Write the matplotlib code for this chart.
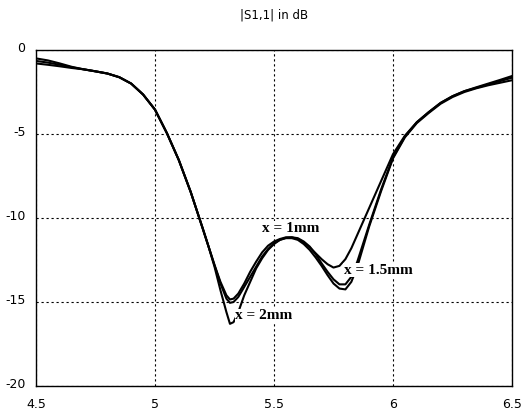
import matplotlib
matplotlib.use("Agg")
import matplotlib.pyplot as plt
from matplotlib.transforms import ScaledTranslation

freq = [4.5, 4.55, 4.6, 4.65, 4.7, 4.75, 4.8, 4.85, 4.9, 4.95, 5.0, 5.05, 5.1, 5.15,
        5.2, 5.225, 5.25, 5.275, 5.3, 5.315, 5.33, 5.35, 5.375, 5.4, 5.425, 5.45,
        5.475, 5.5, 5.525, 5.55, 5.575, 5.6, 5.625, 5.65, 5.675, 5.7, 5.725, 5.75,
        5.775, 5.8, 5.825, 5.85, 5.875, 5.9, 5.95, 6.0, 6.05, 6.1, 6.15, 6.2, 6.25,
        6.3, 6.35, 6.4, 6.45, 6.5]

s11_x1mm = [-0.5, -0.62, -0.8, -1.0, -1.15, -1.27, -1.4, -1.62, -2.0, -2.65, -3.55, -4.95,
            -6.55, -8.45, -10.6, -11.7, -12.8, -13.8, -14.6, -14.85, -14.8, -14.5, -13.9,
            -13.2, -12.6, -12.05, -11.65, -11.4, -11.25, -11.15, -11.15, -11.25, -11.45,
            -11.75, -12.1, -12.45, -12.75, -12.95, -12.85, -12.45, -11.8, -11.0, -10.2,
            -9.4, -7.8, -6.2, -5.1, -4.3, -3.7, -3.15, -2.75, -2.45, -2.25, -2.05, -1.85, -1.65]

s11_x15mm = [-0.65, -0.75, -0.88, -1.03, -1.15, -1.27, -1.4, -1.62, -2.0, -2.65, -3.55, -4.95,
             -6.55, -8.45, -10.6, -11.7, -12.8, -13.9, -14.8, -15.05, -15.0, -14.7, -14.1,
             -13.5, -12.9, -12.3, -11.85, -11.5, -11.3, -11.18, -11.15, -11.2, -11.4,
             -11.7, -12.15, -12.7, -13.2, -13.65, -13.95, -13.95, -13.5, -12.6, -11.5,
             -10.4, -8.3, -6.4, -5.15, -4.3, -3.7, -3.15, -2.75, -2.45, -2.22, -2.0, -1.78, -1.55]

s11_x2mm = [-0.8, -0.88, -0.97, -1.07, -1.15, -1.27, -1.4, -1.62, -2.0, -2.65, -3.55, -4.95,
            -6.55, -8.45, -10.6, -11.7, -12.9, -14.3, -15.6, -16.3, -16.2, -15.6, -14.6,
            -13.8, -13.0, -12.4, -11.9, -11.55, -11.3, -11.2, -11.2, -11.3, -11.55,
            -11.9, -12.35, -12.85, -13.4, -13.9, -14.2, -14.25, -13.8, -12.9, -11.7,
            -10.5, -8.4, -6.45, -5.2, -4.35, -3.75, -3.2, -2.8, -2.5, -2.28, -2.1, -1.95, -1.8]

labels = ["x = 1mm", "x = 1.5mm", "x = 2mm"]
label_pos = [(5.571, -10.6), (5.937, -13.1), (5.458, -15.8)]

xticks = [4.5, 5, 5.5, 6, 6.5]
xticklabels = ["4.5", "5", "5.5", "6", "6.5"]
yticks = [0, -5, -10, -15, -20]
yticklabels = ["0", "-5", "-10", "-15", "-20"]

fig = plt.figure(figsize=(5.24, 4.13), dpi=100)
ax = fig.add_axes([36/524, 27/413, 476/524, 336/413])

for s in (s11_x1mm, s11_x15mm, s11_x2mm):
    ax.plot(freq, s, color="black", lw=1.5, solid_joinstyle="round")

for txt, (lx, ly) in zip(labels, label_pos):
    ax.text(lx, ly, txt, ha="center", va="center", family="Liberation Serif",
            fontsize=11, fontweight="bold", color="black",
            bbox=dict(facecolor="white", edgecolor="none", pad=0.2))

ax.set_xlim(4.5, 6.5)
ax.set_ylim(-20, 0)
ax.set_xticks(xticks)
ax.set_xticklabels(xticklabels)
ax.set_yticks(yticks)
ax.set_yticklabels(yticklabels)
ax.tick_params(axis="x", length=0, labelsize=9, pad=9)
ax.tick_params(axis="y", length=0, labelsize=9, pad=7.5)
for lab in ax.get_yticklabels():
    lab.set_transform(lab.get_transform() + ScaledTranslation(0, 3/100, fig.dpi_scale_trans))
ax.grid(True, color="black", linestyle=(0, (2, 2.5)), linewidth=0.8)
for sp in ax.spines.values():
    sp.set_color("black")
    sp.set_linewidth(1.0)

fig.text(0.523, 1 - 15/413, "|S1,1| in dB", ha="center", va="center", fontsize=8.5)

fig.savefig("out.png", dpi=100)
